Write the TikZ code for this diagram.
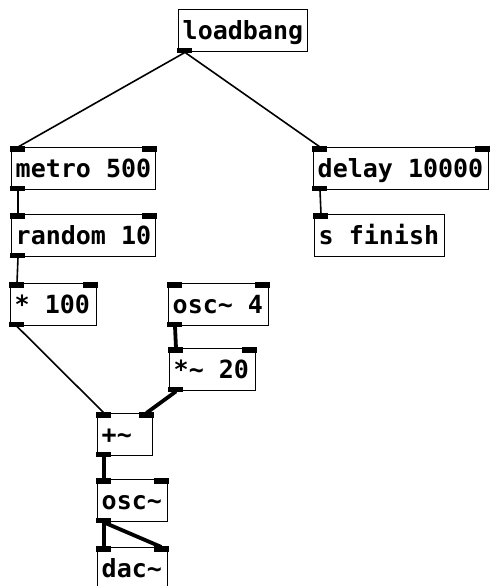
\documentclass[tikz,border=0pt]{standalone}
\usepackage{fontspec}
\newfontfamily\pdmono[WordSpace={1,0,0}]{DejaVu Sans Mono}
\usetikzlibrary{calc}
\tikzset{
  pdbox/.style={draw=black, fill=white, line width=1.4pt, anchor=north west,
    inner xsep=4pt, inner ysep=0pt, minimum height=42pt,
    text height=18pt, text depth=0pt, align=left,
    font=\pdmono\bfseries\fontsize{25}{25}\selectfont},
  port/.style={fill=black, draw=none},
  ctl/.style={line width=1.6pt},
  sig/.style={line width=3.8pt},
}
% #1 name, #2 x, #3 y, #4 box width, #5 text, #6 inlets, #7 outlets
\newcommand\pdobject[7]{%
  \pgfmathsetmacro\pdtextw{#4-8}%
  \node[pdbox, text width=\pdtextw pt] (#1) at (#2,#3)
    {\spaceskip=0pt\xspaceskip=0pt\relax #5};
  \coordinate (#1-i1) at ($(#1.north west)+(7,0)$);
  \coordinate (#1-i2) at ($(#1.north east)+(-7,0)$);
  \coordinate (#1-o) at ($(#1.south west)+(7,0)$);
  \ifnum#6>0 \fill[port] ($(#1.north west)+(-0.7,-0.7)$) rectangle ++(15,5.2);\fi
  \ifnum#6>1 \fill[port] ($(#1.north east)+(0.7,-0.7)$) rectangle ++(-15,5.2);\fi
  \ifnum#7>0 \fill[port] ($(#1.south west)+(-0.7,0.7)$) rectangle ++(15,-5.2);\fi
}
\begin{document}
\begin{tikzpicture}[x=1pt, y=-1pt]
  \fill[white] (0,0) rectangle (490,586);
  \useasboundingbox (0,0) rectangle (490,586);
  \clip (0,0) rectangle (490,586);

  \pdobject{loadbang}{178}{9}{129}{loadbang}{0}{1}
  \pdobject{metro}{11}{147}{144}{metro 500}{2}{1}
  \pdobject{delay}{313}{147}{175}{delay 10000}{2}{1}
  \pdobject{random}{11}{214}{144}{random 10}{2}{1}
  \pdobject{send}{314}{214}{130}{s finish}{1}{0}
  \pdobject{mul}{10}{283}{86}{* 100}{2}{1}
  \pdobject{lfo}{168}{283}{100}{osc\string~ 4}{2}{1}
  \pdobject{lfomul}{169}{348}{86}{*\string~ 20}{2}{1}
  \pdobject{add}{97}{413}{55}{+\string~}{2}{1}
  \pdobject{osc}{97}{479}{70}{osc\string~}{2}{1}
  \pdobject{dac}{97}{547}{70}{dac\string~}{2}{0}

  % control connections
  \draw[ctl] (loadbang-o) -- (metro-i1);
  \draw[ctl] (loadbang-o) -- (delay-i1);
  \draw[ctl] (metro-o) -- (random-i1);
  \draw[ctl] (random-o) -- (mul-i1);
  \draw[ctl] (delay-o) -- (send-i1);
  \draw[ctl] (mul-o) -- (add-i1);
  % signal connections
  \draw[sig] (lfo-o) -- (lfomul-i1);
  \draw[sig] (lfomul-o) -- (add-i2);
  \draw[sig] (add-o) -- (osc-i1);
  \draw[sig] (osc-o) -- (dac-i1);
  \draw[sig] (osc-o) -- (dac-i2);
\end{tikzpicture}
\end{document}
